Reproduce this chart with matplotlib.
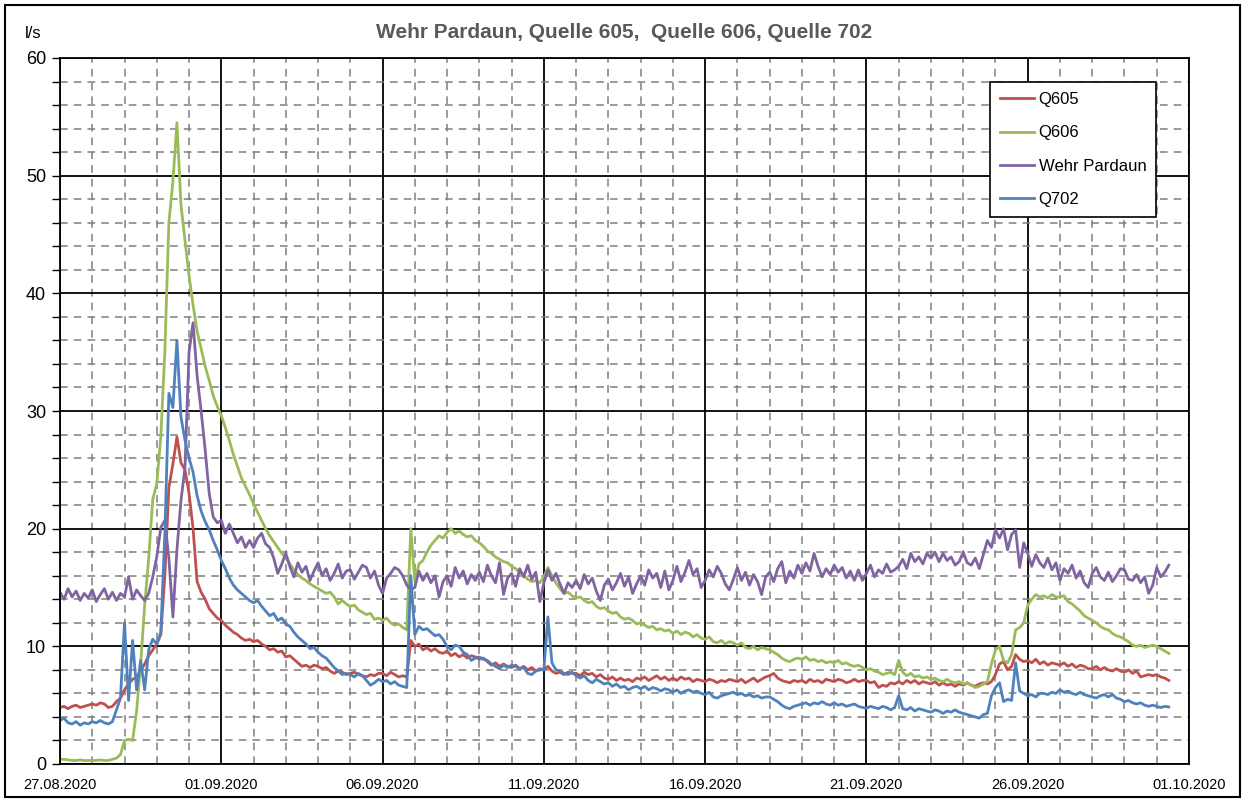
import numpy as np
import pandas as pd
import matplotlib
matplotlib.use('Agg')
import matplotlib.pyplot as plt
import matplotlib.dates as mdates
from matplotlib.patches import Rectangle

# 3-hourly values, 27.08.2020 00:00 onwards (one row = one day)
q605 = [
    4.8, 4.9, 4.7, 4.9, 5.0, 4.8, 4.9, 5.0,
    5.1, 5.0, 5.2, 5.1, 4.8, 4.9, 5.3, 5.6,
    6.3, 6.8, 7.2, 7.4, 7.9, 8.5, 9.2, 9.7,
    10.2, 11.0, 16.0, 23.5, 25.5, 27.8, 25.6, 25.0,
    23.0, 20.0, 15.5, 14.6, 14.0, 13.2, 12.8, 12.4,
    12.2, 11.8, 11.5, 11.2, 11.0, 10.7, 10.5, 10.6,
    10.4, 10.5, 10.2, 10.0, 9.7, 9.8, 9.5, 9.6,
    9.1, 9.2, 8.9, 8.6, 8.3, 8.4, 8.2, 8.4,
    8.3, 8.1, 8.2, 7.9, 7.7, 7.9, 7.8, 7.6,
    7.7, 7.8, 7.6, 7.5, 7.4, 7.6, 7.5, 7.7,
    7.7, 7.5, 7.8, 7.6, 7.4, 7.5, 7.4, 10.5,
    10.0, 10.2, 9.7, 9.9, 9.6, 9.8, 9.5, 9.4,
    9.6, 9.2, 9.4, 9.1, 9.3, 9.0, 9.2, 9.1,
    8.9, 9.0, 8.7, 8.4, 8.6, 8.3, 8.5, 8.3,
    8.2, 8.4, 8.1, 8.3, 8.0, 8.2, 7.9, 8.1,
    8.0, 8.3, 7.9, 7.7, 7.8, 7.6, 7.8, 7.7,
    7.7, 7.5, 7.8, 7.6, 7.7, 7.4, 7.6, 7.3,
    7.2, 7.4, 7.1, 7.3, 7.1, 7.2, 7.0, 7.3,
    7.2, 7.4, 7.1, 7.3, 7.5, 7.2, 7.4, 7.1,
    7.3, 7.1, 7.4, 7.2, 7.3, 7.0, 7.2, 7.1,
    7.0, 7.2, 7.1, 6.9, 7.1, 7.0, 7.2, 7.1,
    7.0, 7.2, 6.9, 7.1, 7.3, 7.0, 7.2, 7.4,
    7.5, 7.7, 7.3, 7.1, 7.0, 6.9, 7.1, 7.0,
    7.1, 6.9, 7.2, 7.0, 7.1, 6.9, 7.2, 7.1,
    7.0, 7.2, 7.1, 6.9, 7.0, 7.2, 7.0, 7.1,
    7.1, 6.9, 7.0, 6.5, 6.7, 6.6, 6.9, 6.8,
    7.0, 6.8, 7.1, 6.9, 7.1, 6.8, 7.0, 6.9,
    6.8, 7.0, 6.7, 6.9, 6.7, 6.8, 6.6, 6.8,
    6.7, 6.9, 6.7, 6.6, 6.8, 6.9, 6.8, 7.0,
    7.6, 8.5, 8.7, 8.0, 8.3, 9.3, 8.9, 8.7,
    8.8, 8.6, 8.9, 8.5, 8.7, 8.4, 8.6, 8.5,
    8.4, 8.6, 8.3, 8.5, 8.2, 8.4, 8.3, 8.1,
    8.1, 8.3, 8.0, 8.2, 8.0, 7.9, 8.1, 7.9,
    7.8, 8.0, 7.7, 7.9, 7.4, 7.5, 7.6, 7.5,
    7.6, 7.4, 7.3, 7.1,
]

q606 = [
    0.4, 0.4, 0.35, 0.3, 0.3, 0.35, 0.3, 0.3,
    0.3, 0.3, 0.35, 0.3, 0.3, 0.4, 0.5, 0.8,
    2.0, 2.1, 2.0, 4.5, 8.5, 13.5, 17.5, 22.5,
    23.8, 27.8, 35.0, 46.0, 49.5, 54.5, 47.5, 44.5,
    41.5, 39.0, 36.8, 35.3, 33.8, 32.6, 31.3, 30.4,
    29.6, 28.6, 27.5, 26.3, 25.3, 24.3, 23.6, 22.9,
    22.1, 21.4, 20.7, 20.0, 19.4, 18.9, 18.4, 17.9,
    17.5, 17.0, 16.5, 16.1, 15.8, 15.6, 15.3, 15.1,
    14.9, 14.7, 14.5, 14.6, 14.2, 13.6, 13.9, 13.6,
    13.4, 13.5, 13.1, 12.9, 12.7, 12.8, 12.3, 12.4,
    12.2, 12.4, 12.0, 11.8, 11.9, 11.6, 11.4, 20.0,
    15.5, 17.0, 17.3, 18.0, 18.6, 19.0, 19.4, 19.2,
    19.7, 20.0, 19.6, 19.8, 19.5, 19.3, 19.4, 19.0,
    18.8, 18.5, 18.1, 17.9, 17.6, 17.4, 17.2, 17.1,
    16.8, 16.6, 16.3, 16.0, 15.7, 15.5, 15.6, 15.4,
    15.9, 16.7, 16.0, 15.4, 14.9, 14.5, 14.6, 14.3,
    14.1, 14.2, 13.9, 13.7, 13.8, 13.4, 13.2, 13.3,
    13.0, 12.8, 12.9, 12.5, 12.3, 12.4, 12.2, 11.9,
    12.0, 11.8, 11.6, 11.7, 11.4, 11.5, 11.3, 11.4,
    11.1, 11.3, 11.0, 11.2, 11.1, 10.8, 11.0, 10.7,
    10.6, 10.8, 10.4, 10.3, 10.5, 10.2, 10.4, 10.3,
    10.1, 10.3, 9.9, 9.8, 10.0, 9.7, 9.9, 9.8,
    9.7, 9.5, 9.3, 9.0, 8.8, 8.7, 8.9, 9.0,
    8.9, 9.1, 8.8, 8.9, 8.7, 8.8, 8.6, 8.7,
    8.6, 8.8, 8.5, 8.6, 8.4, 8.3, 8.4, 8.2,
    8.0, 8.1, 7.9, 7.8, 7.6, 7.7, 7.8, 7.6,
    8.8, 7.8, 7.5, 7.7, 7.4, 7.5, 7.3, 7.4,
    7.2, 7.3, 7.1, 7.0, 7.2, 7.0, 6.9, 7.0,
    6.8, 6.9, 6.7, 6.5, 6.6, 6.8, 7.0, 8.5,
    9.7, 10.0, 8.8, 8.6, 9.3, 11.4, 11.6, 12.0,
    13.5, 14.0, 14.4, 14.2, 14.3, 14.1, 14.4, 14.2,
    14.2, 14.3, 13.8, 13.6, 13.3, 13.0, 12.6, 12.4,
    12.2, 12.0, 11.7, 11.5, 11.4, 11.1, 10.9, 10.8,
    10.6, 10.4, 10.1, 10.0, 10.1, 9.9, 10.0, 10.1,
    10.0, 9.8, 9.6, 9.4,
]

wehr = [
    14.6, 14.0, 14.9, 14.2, 14.7, 13.9, 14.5, 14.1,
    14.8, 13.8, 14.4, 14.9, 14.0, 14.6, 13.9, 14.5,
    14.2, 15.9, 14.0, 14.8, 14.3, 13.9, 14.5, 15.9,
    17.6, 20.1, 20.7, 17.5, 12.5, 18.2, 22.4, 25.2,
    35.0, 37.5, 33.0, 30.0, 26.7, 23.0, 21.0, 20.5,
    20.7, 19.6, 20.4, 19.6, 18.8, 19.3, 18.4, 19.0,
    18.4, 19.2, 19.6, 18.7, 18.4, 17.5, 16.2, 17.0,
    17.9, 16.8, 15.9, 17.1, 16.3, 16.8, 15.6, 16.4,
    17.1, 16.0, 16.6, 15.6, 16.2, 17.0, 15.8, 16.4,
    16.5, 15.7, 16.3, 16.9, 16.7, 15.8, 16.4, 15.2,
    14.5, 15.8, 16.2, 16.7, 16.5, 16.0, 15.2, 14.8,
    15.0, 16.4, 15.6, 16.2, 15.4, 16.0, 14.2, 15.5,
    16.0, 15.1, 16.7, 15.8, 16.4, 15.3, 16.1, 15.6,
    16.3, 15.5, 16.9, 16.0, 15.4, 17.1, 14.4, 15.8,
    16.2, 15.1, 16.6, 15.9, 16.9, 15.7, 16.3, 13.8,
    15.4, 16.5, 15.6, 16.2, 15.3, 14.5, 15.4, 15.0,
    15.6, 14.9, 16.1, 15.3, 15.8, 14.7, 13.9, 15.2,
    15.7, 14.8, 15.4, 16.2, 15.1, 15.9, 14.5, 15.3,
    16.0, 15.2, 16.5, 15.8, 16.2, 15.0, 16.4, 14.8,
    15.6, 16.8, 15.5, 16.3, 17.3, 16.1, 16.6, 15.0,
    15.6, 16.5, 15.9, 16.8, 16.2, 15.3, 14.8, 15.7,
    16.7, 15.6, 16.3, 15.2, 16.1, 15.5, 14.4, 15.9,
    16.3, 15.5, 16.6, 17.2, 15.4, 16.4, 15.8, 16.9,
    16.2, 17.1, 16.4, 17.9, 16.8, 15.9, 16.6, 16.1,
    16.9, 16.3, 16.7, 15.8, 16.4, 15.6, 16.5, 15.6,
    16.2, 16.9, 15.9, 16.5, 16.2, 17.0, 16.3, 16.5,
    16.8, 17.4, 16.6, 17.9, 17.2, 17.6, 17.0, 17.9,
    17.5, 18.0, 17.2, 17.9, 17.3, 17.6, 16.9, 17.2,
    18.0, 17.1, 16.9, 17.5, 16.6, 17.8, 19.0, 18.4,
    19.9, 19.2, 20.0, 18.2, 19.5, 19.9, 16.7, 18.8,
    17.9, 16.8, 17.8, 17.1, 16.7, 17.5, 16.5, 17.1,
    15.6, 16.6, 16.2, 16.9, 15.8, 16.4, 15.4, 15.0,
    16.2, 16.7, 15.9, 15.6, 16.3, 15.5, 16.0, 16.6,
    16.5, 15.7, 15.6, 16.1, 15.4, 15.9, 14.5, 15.2,
    16.7, 15.9, 16.3, 16.9,
]

q702 = [
    3.7, 3.9, 3.5, 3.4, 3.6, 3.3, 3.5, 3.4,
    3.6, 3.5, 3.7, 3.5, 3.4, 3.6, 4.6, 5.6,
    12.0, 5.4, 10.5, 6.3, 8.8, 6.3, 9.7, 10.6,
    10.2, 11.2, 19.6, 31.5, 30.3, 36.0, 29.5, 27.5,
    26.0, 24.8, 22.8, 21.5, 20.6, 19.9, 19.0, 18.2,
    17.3, 16.6, 15.8, 15.2, 14.8, 14.5, 14.2, 13.9,
    13.7, 13.9, 13.4, 13.0, 12.6, 12.8, 12.2, 12.4,
    11.9, 11.7, 11.2, 10.8, 10.5, 10.2, 9.8, 9.9,
    9.5, 9.2, 9.0, 8.6, 8.2, 7.9, 7.6, 7.7,
    7.6, 7.4, 7.7, 7.5, 7.1, 6.7, 6.9, 7.2,
    7.0, 7.1, 6.8, 7.0, 6.7, 6.6, 6.5, 16.0,
    11.0, 11.7, 11.4, 11.5, 11.2, 10.9, 11.0, 10.6,
    10.0, 9.7, 10.1, 10.0, 9.5, 9.3, 8.8, 9.0,
    9.1, 8.9, 8.8, 8.5, 8.3, 8.1, 8.4, 8.2,
    8.4, 8.3, 8.1, 8.2, 7.7, 7.6, 7.9, 8.0,
    8.0, 12.5, 8.6, 8.0, 7.9, 7.7, 7.6, 7.8,
    7.5, 7.3, 7.5, 7.1, 6.9, 7.2, 7.0, 6.8,
    6.9, 6.6, 6.8, 6.5, 6.6, 6.3, 6.5, 6.6,
    6.4, 6.6, 6.3, 6.5, 6.4, 6.2, 6.4, 6.3,
    6.1, 6.3, 6.0, 6.2, 6.3, 6.1, 6.2, 6.0,
    5.9, 6.1, 5.7, 5.6, 5.8, 5.9, 6.0, 6.1,
    5.9, 6.0, 5.8, 5.9, 5.7, 5.8, 5.6, 5.7,
    5.7, 5.5, 5.3, 5.0, 4.8, 4.7, 4.9, 5.0,
    5.1, 5.2, 5.0, 5.2, 5.1, 5.3, 5.1, 5.0,
    5.2, 5.0, 5.1, 4.9, 5.0, 5.1, 4.9, 4.8,
    4.75, 4.9, 4.8, 4.7, 4.9, 4.8, 4.6, 4.8,
    5.8, 4.7, 4.6, 4.8, 4.5, 4.7, 4.6, 4.5,
    4.4, 4.6, 4.5, 4.3, 4.5, 4.4, 4.6, 4.4,
    4.3, 4.2, 4.1, 4.0, 3.9, 4.2, 4.3, 5.8,
    6.5, 6.9, 5.3, 5.5, 5.4, 8.6, 6.2, 6.0,
    5.8, 5.9, 5.7, 6.0, 6.0, 5.9, 6.1, 6.0,
    6.3, 6.1, 6.2, 6.0, 5.9, 6.1, 5.9, 5.8,
    5.7, 5.6, 5.8, 5.9, 5.7, 5.9, 5.6, 5.5,
    5.3, 5.4, 5.2, 5.1, 5.2, 5.0, 4.9, 5.0,
    4.9, 4.8, 4.9, 4.85,
]

series_names = ['Q605', 'Q606', 'Wehr Pardaun', 'Q702']
series_colors = ['#C0504D', '#9BBB59', '#8064A2', '#4F81BD']
title = 'Wehr Pardaun, Quelle 605,  Quelle 606, Quelle 702'

times = pd.date_range('2020-08-27 00:00', periods=len(q605), freq='3h')

plt.rcParams['font.family'] = ['Liberation Sans', 'DejaVu Sans']

fig = plt.figure(figsize=(12.46, 8.01), dpi=100)
ax = fig.add_axes([60/1246, 37/801, 1129/1246, 706/801])

for vals, name, col in zip([q605, q606, wehr, q702], series_names, series_colors):
    ax.plot(times, vals, color=col, lw=2.0, label=name)

ax.set_xlim(pd.Timestamp('2020-08-27'), pd.Timestamp('2020-10-01'))
ax.set_ylim(0, 60)

major_dates = pd.to_datetime(['2020-08-27', '2020-09-01', '2020-09-06', '2020-09-11',
                              '2020-09-16', '2020-09-21', '2020-09-26', '2020-10-01'])
ax.set_xticks(major_dates)
ax.xaxis.set_major_formatter(mdates.DateFormatter('%d.%m.%Y'))
ax.xaxis.set_minor_locator(mdates.DayLocator())
ax.set_yticks(np.arange(0, 61, 10))
ax.set_yticks(np.arange(0, 61, 2), minor=True)

ax.grid(which='major', color='black', lw=1.3, ls='-')
ax.grid(which='minor', color='#7f7f7f', lw=1.1, ls=(0, (5, 4)))
ax.set_axisbelow(True)

ax.tick_params(axis='y', which='both', direction='out', length=6, width=1, labelsize=13, pad=4)
ax.tick_params(axis='x', which='major', direction='out', length=0, labelsize=10.5, pad=10)
ax.tick_params(axis='x', which='minor', length=0)
for s in ax.spines.values():
    s.set_linewidth(1.3)

fig.text(624/1246, 1 - 33/801, title, ha='center', va='center', fontsize=15,
         fontweight='bold', color='#595959')
fig.text(33/1246, 1 - 33/801, 'l/s', ha='center', va='center', fontsize=12)

leg = ax.legend(loc='upper left', bbox_to_anchor=(0.824, 0.966), borderaxespad=0,
                fontsize=12, handlelength=2.0, handletextpad=0.3, labelspacing=1.1,
                borderpad=0.6, fancybox=False, framealpha=1, edgecolor='black')
leg.get_frame().set_linewidth(1.2)

fig.patches.append(Rectangle((5/1246, 4/801), 1235/1246, 792/801, transform=fig.transFigure,
                             fill=False, edgecolor='black', lw=1.5))

fig.savefig('out.png', dpi=100)
